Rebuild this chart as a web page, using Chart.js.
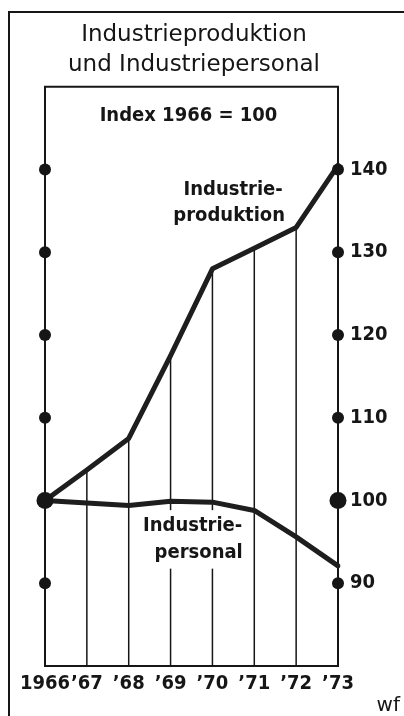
<!DOCTYPE html>
<html>
<head>
<meta charset="utf-8">
<script src="https://cdn.jsdelivr.net/npm/chart.js@4"></script>
<style>
html, body { margin: 0; padding: 0; background: #fff; }
</style>
</head>
<body>
<canvas id="grafico" width="404" height="716"></canvas>
<script>
const jahre = ["1966", "’67", "’68", "’69", "’70", "’71", "’72", "’73"];
const produktion = [100, 103.7, 107.5, 117.5, 128, 130.5, 133, 140.5];
const personal = [100, 99.7, 99.4, 99.9, 99.8, 98.8, 95.6, 92.1];
const skala = [90, 100, 110, 120, 130, 140];
const titel = ["Industrieproduktion", "und Industriepersonal"];
const untertitel = "Index 1966 = 100";

const schmal = "'Liberation Sans Narrow', 'DejaVu Sans Condensed', 'Arial Narrow', sans-serif";
const tinte = "#161616";

// Rahmen, Fallinien, Beschriftungen und Punkte an den Achsen
const zeichnen = {
    id: "zeichnen",
    beforeDraw(chart) {
        const ctx = chart.ctx;
        ctx.save();
        ctx.fillStyle = "#fff";
        ctx.fillRect(0, 0, chart.width, chart.height);
        ctx.strokeStyle = tinte;
        ctx.lineWidth = 2;
        ctx.beginPath();
        ctx.moveTo(9, chart.height);
        ctx.lineTo(9, 12);
        ctx.lineTo(chart.width, 12);
        ctx.stroke();
        ctx.restore();
    },
    beforeDatasetsDraw(chart) {
        const ctx = chart.ctx;
        const a = chart.chartArea;
        const xs = chart.scales.x;
        const ys = chart.scales.y;
        ctx.save();
        // obere Linie
        ctx.strokeStyle = tinte;
        ctx.lineWidth = 2;
        ctx.beginPath();
        ctx.moveTo(a.left - 1, a.top);
        ctx.lineTo(a.right + 1, a.top);
        ctx.stroke();
        // Fallinien
        ctx.lineWidth = 1.5;
        produktion.forEach((v, i) => {
            const x = xs.getPixelForTick(i);
            ctx.beginPath();
            ctx.moveTo(x, a.bottom);
            ctx.lineTo(x, ys.getPixelForValue(v));
            ctx.stroke();
        });
        // Texte
        ctx.font = "bold 20px " + schmal;
        ctx.textAlign = "center";
        ctx.textBaseline = "middle";
        ctx.fillStyle = tinte;
        ctx.fillText(untertitel, (a.left + a.right) / 2 - 3, a.top + 29);

        const px = xs.getPixelForTick(4) + 0.4 * (xs.getPixelForTick(5) - xs.getPixelForTick(4));
        ctx.fillText("Industrie-", px + 4, ys.getPixelForValue(137.6));
        ctx.fillText("produktion", px, ys.getPixelForValue(134.4));

        const qx = xs.getPixelForTick(3) + 0.6 * (xs.getPixelForTick(4) - xs.getPixelForTick(3));
        const q1 = ys.getPixelForValue(96.9);
        const q2 = ys.getPixelForValue(93.7);
        ctx.fillStyle = "#fff";
        ctx.fillRect(qx - 50, q1 - 16, 100, q2 - q1 + 32);
        ctx.fillStyle = tinte;
        ctx.fillText("Industrie-", qx - 3, q1);
        ctx.fillText("personal", qx + 3, q2);

        ctx.font = "20px 'DejaVu Sans', sans-serif";
        ctx.textAlign = "right";
        ctx.fillText("wf", chart.width - 4, chart.height - 10);
        ctx.restore();
    },
    afterDatasetsDraw(chart) {
        const ctx = chart.ctx;
        const a = chart.chartArea;
        const ys = chart.scales.y;
        ctx.save();
        ctx.fillStyle = tinte;
        skala.forEach((v) => {
            const y = ys.getPixelForValue(v);
            const r = v === 100 ? 8.5 : 6;
            [a.left, a.right].forEach((x) => {
                ctx.beginPath();
                ctx.arc(x, y, r, 0, Math.PI * 2);
                ctx.fill();
            });
        });
        ctx.restore();
    }
};

const linie = {
    borderColor: "#1e1e1e",
    borderWidth: 5,
    pointRadius: 0,
    tension: 0,
    borderJoinStyle: "round",
    borderCapStyle: "round"
};

new Chart("grafico", {
    type: "line",
    data: {
        labels: jahre,
        datasets: [
            { ...linie, label: "Industrieproduktion", data: produktion },
            { ...linie, label: "Industriepersonal", data: personal }
        ]
    },
    options: {
        responsive: false,
        animation: false,
        devicePixelRatio: 1,
        layout: { padding: { left: 0, right: 16, top: 0, bottom: 0 } },
        plugins: {
            legend: { display: false },
            tooltip: { enabled: false },
            title: {
                display: true,
                text: titel,
                color: tinte,
                font: { family: "'DejaVu Sans', sans-serif", size: 23, weight: "normal", lineHeight: 1.3 },
                padding: { top: 20, bottom: 7 }
            }
        },
        scales: {
            x: {
                grid: { display: false, drawTicks: false },
                border: { display: true, color: tinte, width: 2 },
                ticks: {
                    color: tinte,
                    font: { family: schmal, size: 20, weight: "bold" },
                    padding: 6,
                    autoSkip: false,
                    maxRotation: 0
                },
                afterFit: (s) => { s.height = 50; }
            },
            links: {
                position: "left",
                min: 80,
                max: 150,
                grid: { display: false, drawTicks: false },
                border: { display: true, color: tinte, width: 2 },
                ticks: { display: false },
                afterFit: (s) => { s.width = 45; }
            },
            y: {
                position: "right",
                min: 80,
                max: 150,
                grid: { display: false, drawTicks: false },
                border: { display: true, color: tinte, width: 2 },
                afterBuildTicks: (s) => { s.ticks = skala.map((v) => ({ value: v })); },
                ticks: {
                    color: tinte,
                    font: { family: schmal, size: 20, weight: "bold" },
                    padding: 12
                },
                afterFit: (s) => { s.width = 50; }
            }
        }
    },
    plugins: [zeichnen]
});
</script>
</body>
</html>
